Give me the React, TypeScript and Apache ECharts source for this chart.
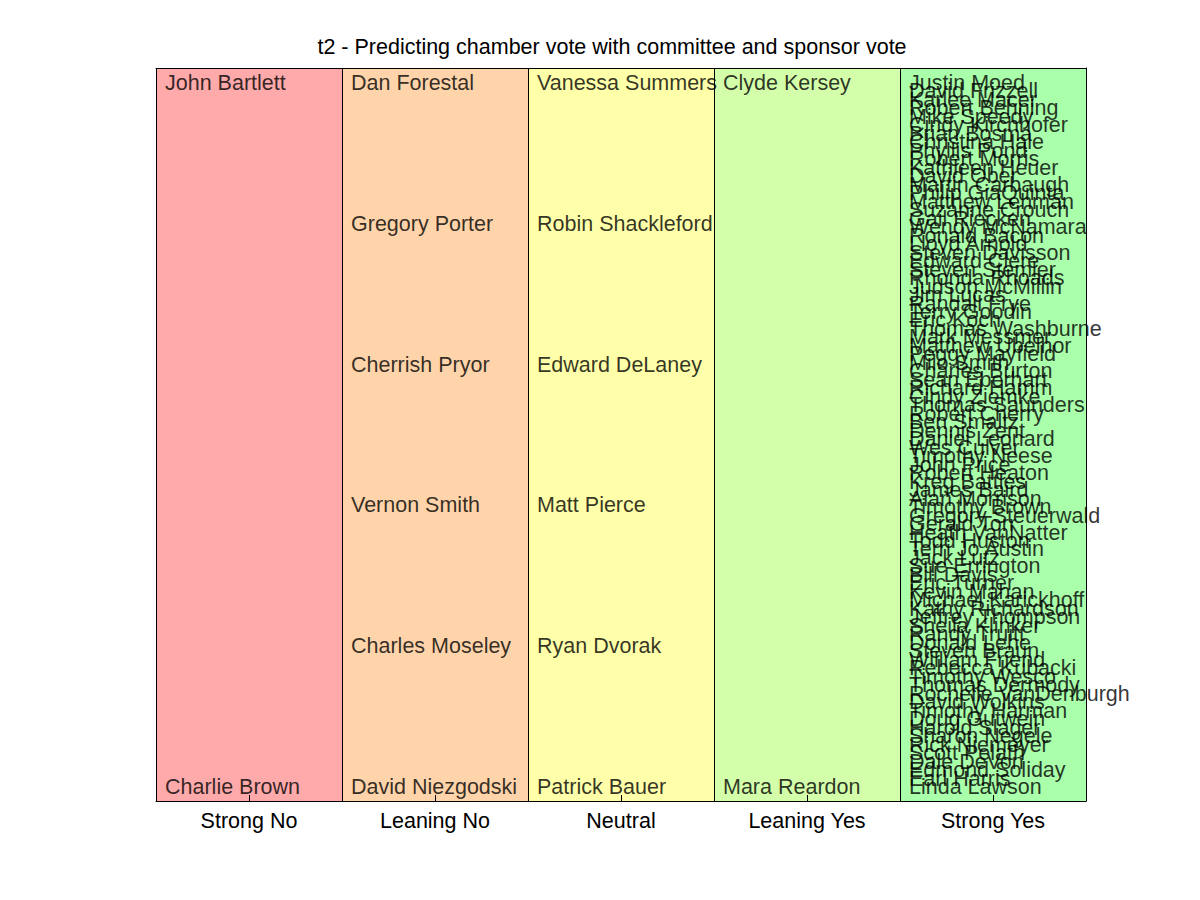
import React, { useEffect, useRef } from "react";
import * as echarts from "echarts";

const titleText = "t2 - Predicting chamber vote with committee and sponsor vote";
const categories = ["Strong No", "Leaning No", "Neutral", "Leaning Yes", "Strong Yes"];
const columnColors = ["#FFAAAA", "#FFD4AA", "#FFFFAA", "#D4FFAA", "#AAFFAA"];

const strongNo = ["John Bartlett", "Charlie Brown"];
const leaningNo = ["Dan Forestal", "Gregory Porter", "Cherrish Pryor", "Vernon Smith", "Charles Moseley", "David Niezgodski"];
const neutral = ["Vanessa Summers", "Robin Shackleford", "Edward DeLaney", "Matt Pierce", "Ryan Dvorak", "Patrick Bauer"];
const leaningYes = ["Clyde Kersey", "Mara Reardon"];
const strongYes = [
  "Justin Moed", "David Frizzell", "Karlee Macer", "Robert Behning", "Mike Speedy", "Cindy Kirchhofer",
  "Brian Bosma", "Christina Hale", "Phyllis Pond", "Robert Morris", "Kathleen Heuer", "David Ober",
  "Martin Carbaugh", "Philip GiaQuinta", "Matthew Lehman", "Suzanne Crouch", "Gail Riecken", "Wendy McNamara",
  "Ronald Bacon", "Lloyd Arnold", "Steven Davisson", "Edward Clere", "Steven Stemler", "Rhonda Rhoads",
  "Judson McMillin", "Jim Lucas", "Randall Frye", "Terry Goodin", "Eric Koch", "Thomas Washburne",
  "Mark Messmer", "Matthew Ubelhor", "Peggy Mayfield", "Milo Smith", "Charles Burton", "Sean Eberhart",
  "Richard Hamm", "Cindy Ziemke", "Thomas Saunders", "Robert Cherry", "Ben Smaltz", "Dennis Zent",
  "Daniel Leonard", "Wes Culver", "Timothy Neese", "John Price", "Robert Heaton", "Kreg Battles",
  "James Baird", "Alan Morrison", "Timothy Brown", "Gregory Steuerwald", "Gerald Torr", "Heath VanNatter",
  "Todd Huston", "Terri Jo Austin", "Jack Lutz", "Sue Errington", "Bill Davis", "Eric Turner",
  "Kevin Mahan", "Michael Karickhoff", "Kathy Richardson", "Jeffrey Thompson", "Sheila Klinker", "Randy Truitt",
  "Donald Lehe", "Steven Braun", "William Friend", "Rebecca Kubacki", "Timothy Wesco", "Thomas Dermody",
  "Rochelle VanDenburgh", "David Wolkins", "Timothy Harman", "Doug Gutwein", "Harold Slager", "Sharon Negele",
  "Rick Niemeyer", "Scott Pelath", "Dale DeVon", "Edmond Soliday", "Earl Harris", "Linda Lawson",
];

const columns = [strongNo, leaningNo, neutral, leaningYes, strongYes];

const FONT = "Arial, 'Liberation Sans', Helvetica, sans-serif";
const FS = 21.5;

export default function App() {
  const ref = useRef<HTMLDivElement>(null);
  useEffect(() => {
    if (!ref.current) return;
    const chart = echarts.init(ref.current, null, { renderer: "svg" });
    const nameData: any[] = [];
    columns.forEach((names, c) => {
      names.forEach((name, i) => {
        nameData.push({ name, value: [c, names.length > 1 ? i / (names.length - 1) : 0] });
      });
    });
    chart.setOption({
      animation: false,
      backgroundColor: "#ffffff",
      title: {
        text: titleText,
        left: 607,
        top: 31,
        textAlign: "center",
        textStyle: { fontFamily: FONT, fontSize: FS, fontWeight: "normal", color: "#000" },
      },
      grid: { left: 156, right: 114, top: 68, bottom: 99, containLabel: false },
      xAxis: [
        {
          type: "category",
          data: categories,
          boundaryGap: true,
          axisLine: { show: true, onZero: false, lineStyle: { color: "#000", width: 1 } },
          axisTick: { show: true, inside: true, length: 6, alignWithLabel: true, lineStyle: { color: "#000" } },
          axisLabel: { fontFamily: FONT, fontSize: FS, color: "#000", margin: 9 },
          splitLine: { show: true, interval: 0, lineStyle: { color: "#000", width: 1 } },
          z: 5,
        },
        {
          type: "value",
          min: 0,
          max: 5,
          position: "top",
          axisLine: { show: true, onZero: false, lineStyle: { color: "#000", width: 1 } },
          axisTick: { show: false },
          axisLabel: { show: false },
          splitLine: { show: false },
          z: 5,
        },
      ],
      yAxis: [
        { type: "value", inverse: true, min: -0.0213, max: 1.0199, show: false },
        {
          type: "value",
          min: 0,
          max: 1,
          axisLine: { show: true, onZero: false, lineStyle: { color: "#000", width: 1 } },
          axisTick: { show: false },
          axisLabel: { show: false },
          splitLine: { show: false },
          z: 5,
        },
      ],
      series: [
        {
          type: "bar",
          xAxisIndex: 0,
          yAxisIndex: 1,
          barWidth: "100%",
          barCategoryGap: 0,
          z: 1,
          data: categories.map((_, i) => ({
            value: 1,
            itemStyle: { color: columnColors[i] },
          })),
        },
        {
          type: "scatter",
          xAxisIndex: 1,
          yAxisIndex: 0,
          symbolSize: 0,
          z: 3,
          data: nameData,
          label: {
            show: true,
            position: "right",
            distance: 9,
            offset: [0, 1],
            formatter: "{b}",
            fontFamily: FONT,
            fontSize: FS,
            color: "#000000",
          },
          labelLayout: { hideOverlap: false },
        },
      ],
    });
    return () => chart.dispose();
  }, []);
  return <div ref={ref} style={{ position: "fixed", left: 0, top: 0, width: 1200, height: 900 }} />;
}
